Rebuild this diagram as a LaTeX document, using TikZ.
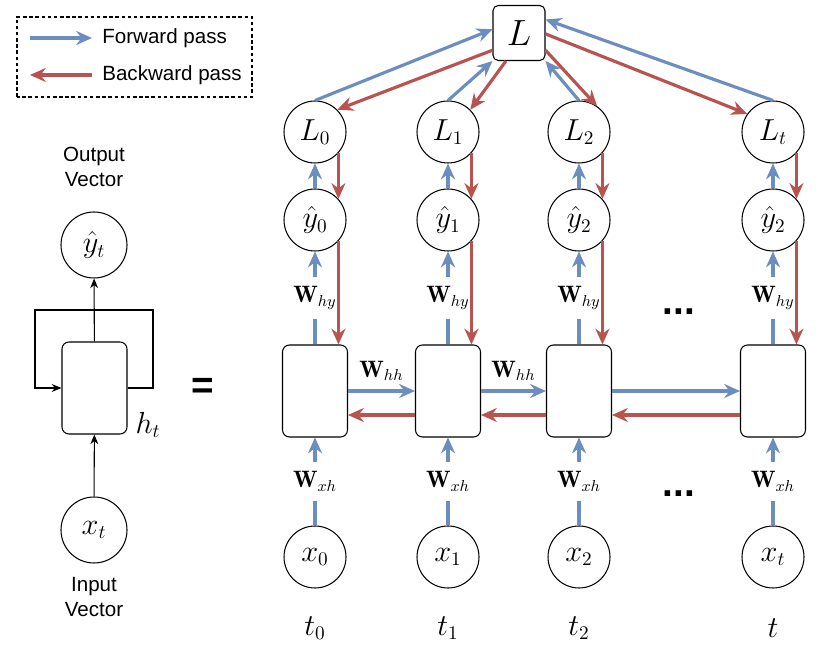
\documentclass[tikz,border=0pt]{standalone}
\usepackage{amsmath,amssymb}
\usepackage{fontspec}
\setsansfont{Liberation Sans}
\usepackage{xcolor}
\usetikzlibrary{arrows.meta}
\definecolor{fwdblue}{RGB}{108,142,191}
\definecolor{bwdred}{RGB}{184,84,80}

\begin{document}
\begin{tikzpicture}[
	fwd/.style={fwdblue,line width=1.8pt,-{Stealth[length=9pt,width=8pt,inset=3pt]}},
	bwd/.style={bwdred,line width=1.8pt,-{Stealth[length=9pt,width=8pt,inset=3pt]}},
	thinarrow/.style={line width=0.6pt,-{Stealth[length=5.5pt,width=4.5pt]}},
	vecnode/.style={draw,circle,line width=0.6pt,minimum size=1.24cm,inner sep=0pt,font=\fontsize{16}{19}\selectfont},
	bigvec/.style={vecnode,minimum size=1.32cm},
	rnncell/.style={draw,line width=0.6pt,rounded corners=4pt,minimum width=1.3cm,minimum height=1.84cm},
	lossbox/.style={draw,line width=0.6pt,rounded corners=3pt,minimum width=1.04cm,minimum height=1.1cm,font=\fontsize{20}{24}\selectfont},
	wlabel/.style={text=black,fill=white,inner xsep=1pt,inner ysep=5.5pt,font=\fontsize{13.5}{16}\selectfont},
	hhlabel/.style={text=black,above=1.5pt,font=\fontsize{13.5}{16}\selectfont},
	mathlabel/.style={font=\fontsize{16}{19}\selectfont},
	sftext/.style={font=\fontsize{11.7}{14.2}\sffamily\selectfont,align=center,inner sep=0pt},
	dotslabel/.style={anchor=base,font=\fontsize{22}{22}\sffamily\bfseries\selectfont}
]
	\useasboundingbox (0,0) rectangle (16.74,13.02) ;

	\draw[line width=0.6pt,dash pattern=on 2pt off 1.5pt] (0.34,11.08) rectangle (5.04,12.68) ;
	\coordinate (fwdA) at (0.60,12.26) ;
	\coordinate (fwdB) at (1.84,12.26) ;
	\coordinate (bwdA) at (1.84,11.52) ;
	\coordinate (bwdB) at (0.60,11.52) ;
	\draw[fwd] (fwdA) -- (fwdB) ;
	\draw[bwd] (bwdA) -- (bwdB) ;
	\node[sftext,anchor=west] (fwdtxt) at (2.04,12.26) {Forward pass} ;
	\node[sftext,anchor=west] (bwdtxt) at (2.04,11.52) {Backward pass} ;

	\node[sftext] (outtxt) at (1.88,9.68) {Output\\Vector} ;
	\node[bigvec] (yt) at (1.88,8.12) {$\hat{y}_t$} ;
	\node[rnncell] (ht) at (1.89,5.26) {} ;
	\node[bigvec] (xt) at (1.88,2.42) {$x_t$} ;
	\node[sftext] (intxt) at (1.88,1.08) {Input\\Vector} ;
	\node[mathlabel] (htlbl) at (2.96,4.52) {$h_t$} ;
	\coordinate (loopR) at (3.06,6.82) ;
	\coordinate (loopL) at (0.70,6.82) ;
	\draw[thinarrow] (ht) -- (yt) ;
	\draw[thinarrow] (xt) -- (ht) ;
	\draw[thinarrow] (ht.east) -| (loopR) -- (loopL) |- (ht.west) ;
	\node[font=\fontsize{22}{22}\sffamily\bfseries\selectfont] (eq) at (4.06,5.26) {=} ;

	\node[lossbox] (L) at (10.38,12.36) {$L$} ;

	\node[vecnode] (L0) at (6.30,10.38) {$L_0$} ;
	\node[vecnode] (L1) at (8.96,10.38) {$L_1$} ;
	\node[vecnode] (L2) at (11.58,10.38) {$L_2$} ;
	\node[vecnode] (Lt) at (15.46,10.38) {$L_t$} ;

	\node[vecnode] (y0) at (6.30,8.62) {$\hat{y}_0$} ;
	\node[vecnode] (y1) at (8.96,8.62) {$\hat{y}_1$} ;
	\node[vecnode] (y2) at (11.58,8.62) {$\hat{y}_2$} ;
	\node[vecnode] (yT) at (15.46,8.62) {$\hat{y}_2$} ;

	\node[rnncell] (h0) at (6.30,5.20) {} ;
	\node[rnncell] (h1) at (8.96,5.20) {} ;
	\node[rnncell] (h2) at (11.58,5.20) {} ;
	\node[rnncell] (hT) at (15.46,5.20) {} ;

	\node[vecnode] (x0) at (6.30,1.88) {$x_0$} ;
	\node[vecnode] (x1) at (8.96,1.88) {$x_1$} ;
	\node[vecnode] (x2) at (11.58,1.88) {$x_2$} ;
	\node[vecnode] (xT) at (15.46,1.88) {$x_t$} ;

	\node[mathlabel] (t0) at (6.30,0.46) {$t_0$} ;
	\node[mathlabel] (t1) at (8.96,0.46) {$t_1$} ;
	\node[mathlabel] (t2) at (11.58,0.46) {$t_2$} ;
	\node[mathlabel] (tT) at (15.46,0.46) {$t$} ;

	\node[dotslabel] (dotsA) at (13.58,6.72) {...} ;
	\node[dotslabel] (dotsB) at (13.58,3.08) {...} ;

	\draw[fwd] (L0.north) -- (L.172) ;
	\draw[fwd] (L1.north) -- (L.south west) ;
	\draw[fwd] (L2.north) -- (L.south east) ;
	\draw[fwd] (Lt.north) -- (L.27) ;
	\draw[bwd] (L.213) -- (L0.45) ;
	\draw[bwd] (L.245) -- (L1.45) ;
	\draw[bwd] (L.-33) -- (L2.55) ;
	\draw[bwd] (L.-2) -- (Lt.145) ;

	\draw[fwd] (y0) -- (L0) ;
	\draw[fwd] (y1) -- (L1) ;
	\draw[fwd] (y2) -- (L2) ;
	\draw[fwd] (yT) -- (Lt) ;

	\draw[fwd] (h0) -- node[wlabel]{$\mathbf{W}_{hy}$} (y0) ;
	\draw[fwd] (h1) -- node[wlabel]{$\mathbf{W}_{hy}$} (y1) ;
	\draw[fwd] (h2) -- node[wlabel]{$\mathbf{W}_{hy}$} (y2) ;
	\draw[fwd] (hT) -- node[wlabel]{$\mathbf{W}_{hy}$} (yT) ;

	\draw[fwd] (x0) -- node[wlabel]{$\mathbf{W}_{xh}$} (h0) ;
	\draw[fwd] (x1) -- node[wlabel]{$\mathbf{W}_{xh}$} (h1) ;
	\draw[fwd] (x2) -- node[wlabel]{$\mathbf{W}_{xh}$} (h2) ;
	\draw[fwd] (xT) -- node[wlabel]{$\mathbf{W}_{xh}$} (hT) ;

	\draw[bwd] (L0.-42) -- (y0.42) ;
	\draw[bwd] (L1.-42) -- (y1.42) ;
	\draw[bwd] (L2.-42) -- (y2.42) ;
	\draw[bwd] (Lt.-42) -- (yT.42) ;
	\draw[bwd] (y0.-42) -- (y0.-42 |- h0.north) ;
	\draw[bwd] (y1.-42) -- (y1.-42 |- h1.north) ;
	\draw[bwd] (y2.-42) -- (y2.-42 |- h2.north) ;
	\draw[bwd] (yT.-42) -- (yT.-42 |- hT.north) ;

	\draw[fwd] (h0.east) -- node[hhlabel]{$\mathbf{W}_{hh}$} (h1.west) ;
	\draw[fwd] (h1.east) -- node[hhlabel]{$\mathbf{W}_{hh}$} (h2.west) ;
	\draw[fwd] (h2.east) -- (hT.west) ;
	\draw[bwd] ([yshift=-0.48cm]h1.west) -- ([yshift=-0.48cm]h0.east) ;
	\draw[bwd] ([yshift=-0.48cm]h2.west) -- ([yshift=-0.48cm]h1.east) ;
	\draw[bwd] ([yshift=-0.48cm]hT.west) -- ([yshift=-0.48cm]h2.east) ;
\end{tikzpicture}
\end{document}
